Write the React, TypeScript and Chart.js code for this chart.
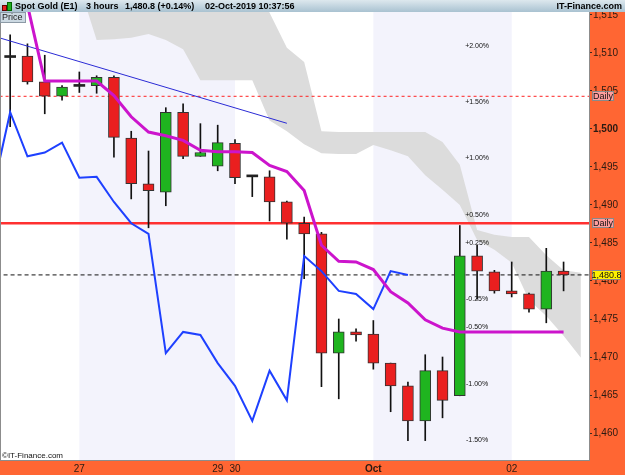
import React, { useEffect, useRef } from 'react';
import { Chart, registerables } from 'chart.js';

Chart.register(...registerables);

const FONT = '"Liberation Sans", Arial, sans-serif';

// 3-hour candles, index 0..32
const opens = [1509.4, 1509.6, 1506.2, 1504.3, 1505.6, 1505.7, 1506.8, 1498.8, 1492.8, 1491.7, 1502.2, 1496.4, 1495.1, 1498.1, 1493.7, 1493.7, 1490.4, 1487.6, 1486.2, 1470.5, 1473.3, 1473.0, 1469.2, 1466.2, 1461.6, 1468.2, 1464.9, 1483.3, 1481.2, 1478.7, 1478.3, 1476.3, 1481.3];
const highs = [1512.4, 1511.2, 1509.7, 1505.7, 1507.5, 1507.0, 1507.0, 1499.7, 1497.1, 1502.8, 1503.3, 1500.7, 1500.5, 1498.6, 1493.9, 1494.5, 1490.5, 1488.4, 1486.4, 1475.0, 1473.7, 1474.8, 1469.2, 1466.7, 1470.3, 1470.0, 1487.3, 1484.7, 1481.4, 1482.5, 1478.4, 1484.3, 1482.5];
const lows = [1500.3, 1505.9, 1502.0, 1503.8, 1504.8, 1504.7, 1496.3, 1490.8, 1487.0, 1489.9, 1496.1, 1496.4, 1494.5, 1492.8, 1491.1, 1487.9, 1485.5, 1480.3, 1466.1, 1464.5, 1472.1, 1468.4, 1462.8, 1459.0, 1459.0, 1462.0, 1464.9, 1477.6, 1478.4, 1477.9, 1475.9, 1474.5, 1478.7];
const closes = [1509.4, 1506.2, 1504.3, 1505.5, 1505.6, 1506.8, 1498.9, 1492.8, 1491.9, 1502.2, 1496.4, 1496.9, 1498.2, 1493.6, 1493.7, 1490.4, 1487.6, 1486.2, 1470.5, 1473.3, 1472.9, 1469.2, 1466.2, 1461.6, 1468.2, 1464.3, 1483.3, 1481.3, 1478.7, 1478.3, 1476.3, 1481.3, 1480.8];

// magenta moving line, index 0..32
const maValues = [1521.0, 1516.3, 1506.3, 1506.3, 1506.3, 1506.3, 1504.4, 1501.6, 1499.6, 1499.1, 1498.5, 1497.2, 1497.0, 1497.0, 1496.9, 1495.2, 1494.4, 1491.9, 1484.7, 1482.6, 1482.5, 1481.5, 1478.6, 1477.1, 1474.9, 1473.8, 1473.3, 1473.3, 1473.3, 1473.3, 1473.3, 1473.3, 1473.3];

// blue lagging line, starts at index -1
const chikouStart = -1;
const chikouValues = [1491.9, 1502.2, 1496.4, 1496.9, 1498.2, 1493.6, 1493.7, 1490.4, 1487.6, 1486.2, 1470.5, 1473.3, 1472.9, 1469.2, 1466.2, 1461.6, 1468.2, 1464.3, 1483.3, 1481.3, 1478.7, 1478.3, 1476.3, 1481.3, 1480.8];

// grey cloud, starts at index 4
const cloudStart = 4;
const cloudUpper = [1524.0, 1524.0, 1523.5, 1523.0, 1523.0, 1522.5, 1522.0, 1521.5, 1521.0, 1520.5, 1519.6, 1515.3, 1510.7, 1508.8, 1499.7, 1499.6, 1499.6, 1499.6, 1499.6, 1499.6, 1499.6, 1498.3, 1495.3, 1486.7, 1486.1, 1485.8, 1485.8, 1483.4, 1481.4, 1481.1];
const cloudLower = [1518.9, 1511.7, 1511.8, 1512.0, 1512.5, 1511.7, 1510.5, 1506.4, 1506.4, 1506.4, 1506.4, 1501.1, 1499.7, 1498.0, 1496.8, 1496.7, 1496.7, 1497.9, 1497.2, 1496.4, 1493.9, 1492.0, 1490.0, 1485.4, 1484.1, 1482.4, 1477.5, 1475.4, 1472.8, 1469.9];

// thin descending trend line
const trendX = [-1, 16];
const trendY = [1512.25, 1500.75];

const dailyLevels = [1504.3, 1487.6];
const lastPrice = 1480.8;
const lastPriceLabel = '1,480.8';

const pctBase = 1481.3;
const pctLevels = [2, 1.5, 1, 0.5, 0.25, -0.25, -0.5, -1, -1.5];
const pctLabels = ['+2.00%', '+1.50%', '+1.00%', '+0.50%', '+0.25%', '-0.25%', '-0.50%', '-1.00%', '-1.50%'];
const pctLabelIndex = 27;

const xTickPositions = [4, 12, 13, 21, 29];
const xTickLabels = ['27', '29', '30', 'Oct', '02'];
const yTickValues = [1460, 1465, 1470, 1475, 1480, 1485, 1490, 1495, 1500, 1505, 1510, 1515];
const dayBands = [[4, 13], [21, 29]];

const X_MIN = -0.53;
const X_MAX = 33.47;
const Y_MIN = 1456.45;
const Y_MAX = 1515.39;

export default function App() {
  const ref = useRef<HTMLCanvasElement>(null);

  useEffect(() => {
    const canvas = ref.current;
    if (!canvas) return;

    const bodyColor = (i: number) =>
      closes[i] > opens[i] ? '#1FB41F' : closes[i] < opens[i] ? '#EA1F1F' : '#222';

    const hLine = (y: number, color: string, width: number, dash: number[]) => ({
      type: 'line',
      data: [{ x: -2, y }, { x: 35, y }],
      borderColor: color,
      borderWidth: width,
      borderDash: dash,
      pointRadius: 0,
      fill: false,
      order: 8,
    });

    const plugin = {
      id: 'itfinance',
      beforeDraw(chart: any) {
        const { ctx, chartArea } = chart;
        const { left, top, right, bottom } = chartArea;
        const xs = chart.scales.x;
        ctx.save();
        ctx.fillStyle = '#FF6633';
        ctx.fillRect(0, 0, chart.width, chart.height);
        ctx.fillStyle = '#FFFFFF';
        ctx.fillRect(left, top, right - left, bottom - top);
        ctx.fillStyle = '#F3F3FC';
        dayBands.forEach(([a, b]) => {
          const x1 = xs.getPixelForValue(a);
          const x2 = xs.getPixelForValue(b);
          ctx.fillRect(x1, top, x2 - x1, bottom - top);
        });
        ctx.restore();
      },
      afterDatasetsDraw(chart: any) {
        const { ctx } = chart;
        const xs = chart.scales.x;
        const ys = chart.scales.y;
        ctx.save();
        ctx.font = '7px ' + FONT;
        ctx.fillStyle = '#111';
        ctx.textAlign = 'center';
        ctx.textBaseline = 'middle';
        const px = xs.getPixelForValue(pctLabelIndex);
        pctLevels.forEach((p, k) => {
          const y = ys.getPixelForValue(pctBase * (1 + p / 100));
          ctx.fillText(pctLabels[k], px, y);
        });
        ctx.restore();
      },
      afterDraw(chart: any) {
        const { ctx, chartArea } = chart;
        const { left, top, right, bottom } = chartArea;
        const ys = chart.scales.y;
        ctx.save();
        ctx.strokeStyle = '#8C8C8C';
        ctx.lineWidth = 1;
        ctx.strokeRect(left - 0.5, top - 0.5, right - left + 1, bottom - top + 1);

        const box = (text: string, y: number, w: number, fill: string) => {
          const bx = right + 3;
          const by = Math.round(y) - 5;
          ctx.fillStyle = fill;
          ctx.fillRect(bx, by, w, 10);
          ctx.strokeStyle = '#8A8A8A';
          ctx.strokeRect(bx + 0.5, by + 0.5, w - 1, 9);
          ctx.fillStyle = '#111';
          ctx.font = '9px ' + FONT;
          ctx.textAlign = 'center';
          ctx.textBaseline = 'middle';
          ctx.fillText(text, bx + w / 2, by + 5.5);
        };
        dailyLevels.forEach((lv) => box('Daily', ys.getPixelForValue(lv), 22, '#FF9E9E'));
        box(lastPriceLabel, ys.getPixelForValue(lastPrice), 29, '#FFF200');
        ctx.restore();
      },
    };

    const chart = new Chart(canvas, {
      type: 'bar',
      data: {
        datasets: [
          {
            type: 'line',
            data: cloudUpper.map((v, k) => ({ x: cloudStart + k, y: v })),
            borderWidth: 0,
            borderColor: 'rgba(0,0,0,0)',
            pointRadius: 0,
            fill: false,
            tension: 0,
            order: 10,
          },
          {
            type: 'line',
            data: cloudLower.map((v, k) => ({ x: cloudStart + k, y: v })),
            borderWidth: 0,
            borderColor: 'rgba(0,0,0,0)',
            backgroundColor: '#DCDCDC',
            pointRadius: 0,
            fill: '-1',
            tension: 0,
            order: 9,
          },
          hLine(dailyLevels[0], '#FF2222', 1, [3, 3]),
          hLine(dailyLevels[1], '#FF3030', 2.5, []),
          hLine(lastPrice, '#111111', 1, [4, 3]),
          {
            type: 'bar',
            data: opens.map((_, i) => ({ x: i, y: [lows[i], highs[i]] })),
            backgroundColor: '#111',
            borderWidth: 0,
            barThickness: 1,
            grouped: false,
            order: 7,
          },
          {
            type: 'bar',
            data: opens.map((o, i) => ({ x: i, y: [o, closes[i]] })),
            backgroundColor: opens.map((_, i) => bodyColor(i)),
            borderColor: '#333',
            borderWidth: opens.map((o, i) => (o === closes[i] ? 0 : 1)),
            borderSkipped: false,
            barThickness: 11,
            minBarLength: 2,
            grouped: false,
            order: 6,
          },
          {
            type: 'line',
            data: trendX.map((x, k) => ({ x, y: trendY[k] })),
            borderColor: '#2B2BD6',
            borderWidth: 1,
            pointRadius: 0,
            fill: false,
            tension: 0,
            order: 3,
          },
          {
            type: 'line',
            data: chikouValues.map((v, k) => ({ x: chikouStart + k, y: v })),
            borderColor: '#1E40FF',
            borderWidth: 2,
            pointRadius: 0,
            fill: false,
            tension: 0,
            order: 2,
          },
          {
            type: 'line',
            data: maValues.map((v, i) => ({ x: i, y: v })),
            borderColor: '#CC14CC',
            borderWidth: 3,
            pointRadius: 0,
            fill: false,
            tension: 0,
            order: 1,
          },
        ] as any,
      },
      options: {
        responsive: false,
        animation: false,
        events: [],
        layout: { padding: { top: 12, left: 1, right: 0, bottom: 0 } },
        plugins: { legend: { display: false }, tooltip: { enabled: false } },
        scales: {
          x: {
            type: 'linear',
            min: X_MIN,
            max: X_MAX,
            offset: false,
            position: 'bottom',
            afterBuildTicks: (s: any) => {
              s.ticks = xTickPositions.map((v) => ({ value: v }));
            },
            afterFit: (s: any) => {
              s.height = 15;
            },
            grid: { display: false, drawTicks: false, offset: false },
            border: { display: false },
            ticks: {
              autoSkip: false,
              maxRotation: 0,
              padding: 3,
              color: '#2A1A12',
              font: (c: any) => ({
                size: 10,
                family: FONT,
                weight: c.tick && c.tick.value === 21 ? 'bold' : 'normal',
              }),
              callback: (v: any) => {
                const k = xTickPositions.indexOf(Number(v));
                return k >= 0 ? xTickLabels[k] : '';
              },
            },
          },
          y: {
            type: 'linear',
            position: 'right',
            min: Y_MIN,
            max: Y_MAX,
            afterBuildTicks: (s: any) => {
              s.ticks = yTickValues.map((v) => ({ value: v }));
            },
            afterFit: (s: any) => {
              s.width = 36;
            },
            grid: { display: true, drawOnChartArea: false, drawTicks: true, tickLength: 3, color: '#3A2A20' },
            border: { display: false },
            ticks: {
              padding: 1,
              color: '#2A1A12',
              font: (c: any) => ({
                size: 10,
                family: FONT,
                weight: c.tick && c.tick.value === 1500 ? 'bold' : 'normal',
              }),
              callback: (v: any) => Number(v).toLocaleString('en-US'),
            },
          },
        },
      } as any,
      plugins: [plugin],
    });

    return () => chart.destroy();
  }, []);

  const headerText: React.CSSProperties = {
    position: 'absolute',
    top: 0,
    lineHeight: '12px',
    whiteSpace: 'nowrap',
  };

  return (
    <div style={{ position: 'absolute', left: 0, top: 0, width: 625, height: 475, overflow: 'hidden' }}>
      <canvas ref={ref} width={625} height={475} style={{ display: 'block', width: 625, height: 475 }} />
      <div
        style={{
          position: 'absolute',
          left: 0,
          top: 0,
          width: 625,
          height: 12,
          background: 'linear-gradient(#DDE8EE, #A9C2D1)',
          font: 'bold 9px ' + FONT,
          color: '#000',
        }}
      >
        <span style={{ position: 'absolute', left: 2, top: 5, width: 3, height: 4, background: '#E82020', border: '0.5px solid #600' }} />
        <span style={{ position: 'absolute', left: 7, top: 2, width: 3, height: 7, background: '#20B020', border: '0.5px solid #060' }} />
        <span style={{ ...headerText, left: 15 }}>Spot Gold (E1)</span>
        <span style={{ ...headerText, left: 86 }}>3 hours</span>
        <span style={{ ...headerText, left: 125 }}>1,480.8 (+0.14%)</span>
        <span style={{ ...headerText, left: 205 }}>02-Oct-2019 10:37:56</span>
        <span style={{ ...headerText, right: 3 }}>IT-Finance.com</span>
      </div>
      <div
        style={{
          position: 'absolute',
          left: 0,
          top: 12,
          width: 23,
          height: 9,
          background: '#CCD9E2',
          border: '1px solid #8C9AA6',
          font: '9px ' + FONT,
          lineHeight: '9px',
          color: '#222',
          paddingLeft: 1,
        }}
      >
        Price
      </div>
      <div
        style={{
          position: 'absolute',
          left: 2,
          top: 451,
          font: '8px ' + FONT,
          lineHeight: '9px',
          color: '#111',
          whiteSpace: 'nowrap',
        }}
      >
        ©IT-Finance.com
      </div>
    </div>
  );
}
